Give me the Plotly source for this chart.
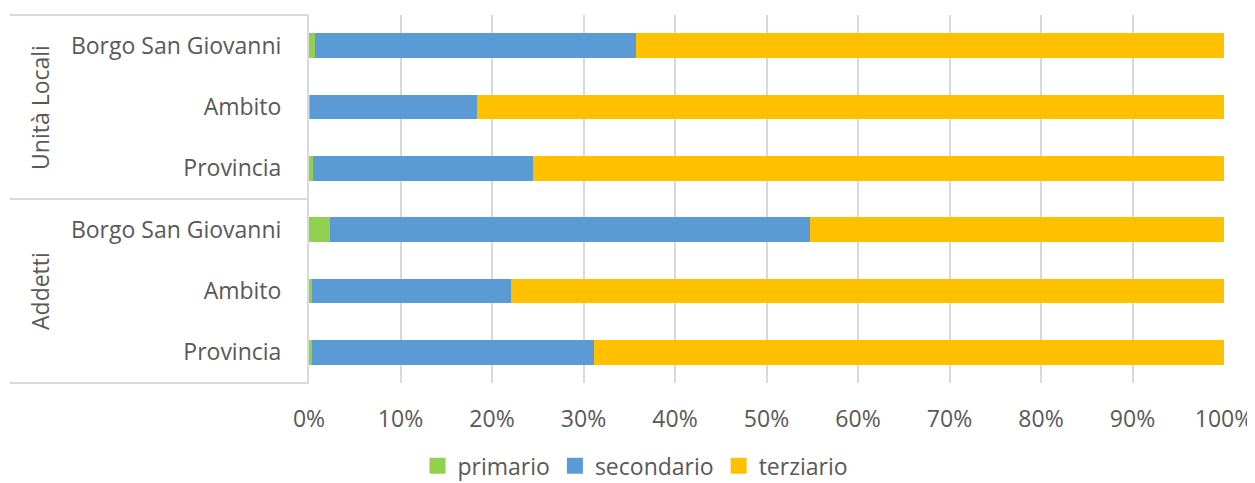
import plotly.graph_objects as go

groups = ["Unità Locali", "Unità Locali", "Unità Locali", "Addetti", "Addetti", "Addetti"]
places = ["Borgo San Giovanni", "Ambito", "Provincia", "Borgo San Giovanni", "Ambito", "Provincia"]
primario = [0.7, 0.15, 0.4, 2.3, 0.35, 0.35]
secondario = [35.0, 18.25, 24.1, 52.5, 21.75, 30.85]
terziario = [100 - p - s for p, s in zip(primario, secondario)]
x_ticks = [0, 10, 20, 30, 40, 50, 60, 70, 80, 90, 100]

cats = [f"{g}|{p}" for g, p in zip(groups, places)]

FONT = "Open Sans"
TXT = "#595959"
GRID = "#D9D9D9"

series = [("primario", primario, "#92D050"),
          ("secondario", secondario, "#5B9BD5"),
          ("terziario", terziario, "#FFC000")]

fig = go.Figure()
for name, vals, col in series:
    fig.add_trace(go.Bar(y=cats, x=vals, name=name, orientation="h",
                         marker=dict(color=col, line=dict(width=0)),
                         legendgroup=name, showlegend=False))
# legend entries with larger square swatches
for name, vals, col in series:
    fig.add_trace(go.Scatter(x=[None], y=[None], mode="markers", name=name,
                             legendgroup=name,
                             marker=dict(symbol="square", size=16, color=col)))

fig.update_layout(
    barmode="stack",
    bargap=0.6,
    width=1255, height=483,
    margin=dict(l=301, r=39, t=7, b=108, autoexpand=False),
    plot_bgcolor="white", paper_bgcolor="white",
    font=dict(family=FONT, size=23, color=TXT),
    showlegend=True,
    legend=dict(orientation="h", xref="container", yref="container",
                x=0.5, xanchor="center", y=0.052, yanchor="middle",
                font=dict(size=23, color=TXT), itemwidth=30,
                itemsizing="trace", traceorder="normal"),
    xaxis=dict(range=[0, 100], tickvals=x_ticks,
               ticktext=[f"{v}%" for v in x_ticks],
               showgrid=True, gridcolor=GRID, gridwidth=2,
               zeroline=False, showline=False, ticks="",
               ticklabelstandoff=20, fixedrange=True,
               tickfont=dict(size=23)),
    yaxis=dict(type="category", categoryorder="array", categoryarray=cats,
               autorange="reversed", tickvals=cats, ticktext=places,
               showgrid=False, showline=True, linecolor=GRID, linewidth=2,
               ticks="", ticklabelstandoff=21, tickfont=dict(size=23)),
)

# group labels
for g, mid in [("Unità Locali", cats[1]), ("Addetti", cats[4])]:
    fig.add_annotation(text=g, xref="paper", yref="y", x=-0.294, y=mid,
                       xanchor="center", yanchor="middle",
                       textangle=-90, showarrow=False,
                       font=dict(family=FONT, size=23, color=TXT))

# bracket lines
for yy in [1.0, 0.5, 0.0]:
    fig.add_shape(type="line", xref="paper", yref="paper",
                  x0=-0.327, x1=0, y0=yy, y1=yy,
                  line=dict(color=GRID, width=2))

fig.write_html("out.html")
